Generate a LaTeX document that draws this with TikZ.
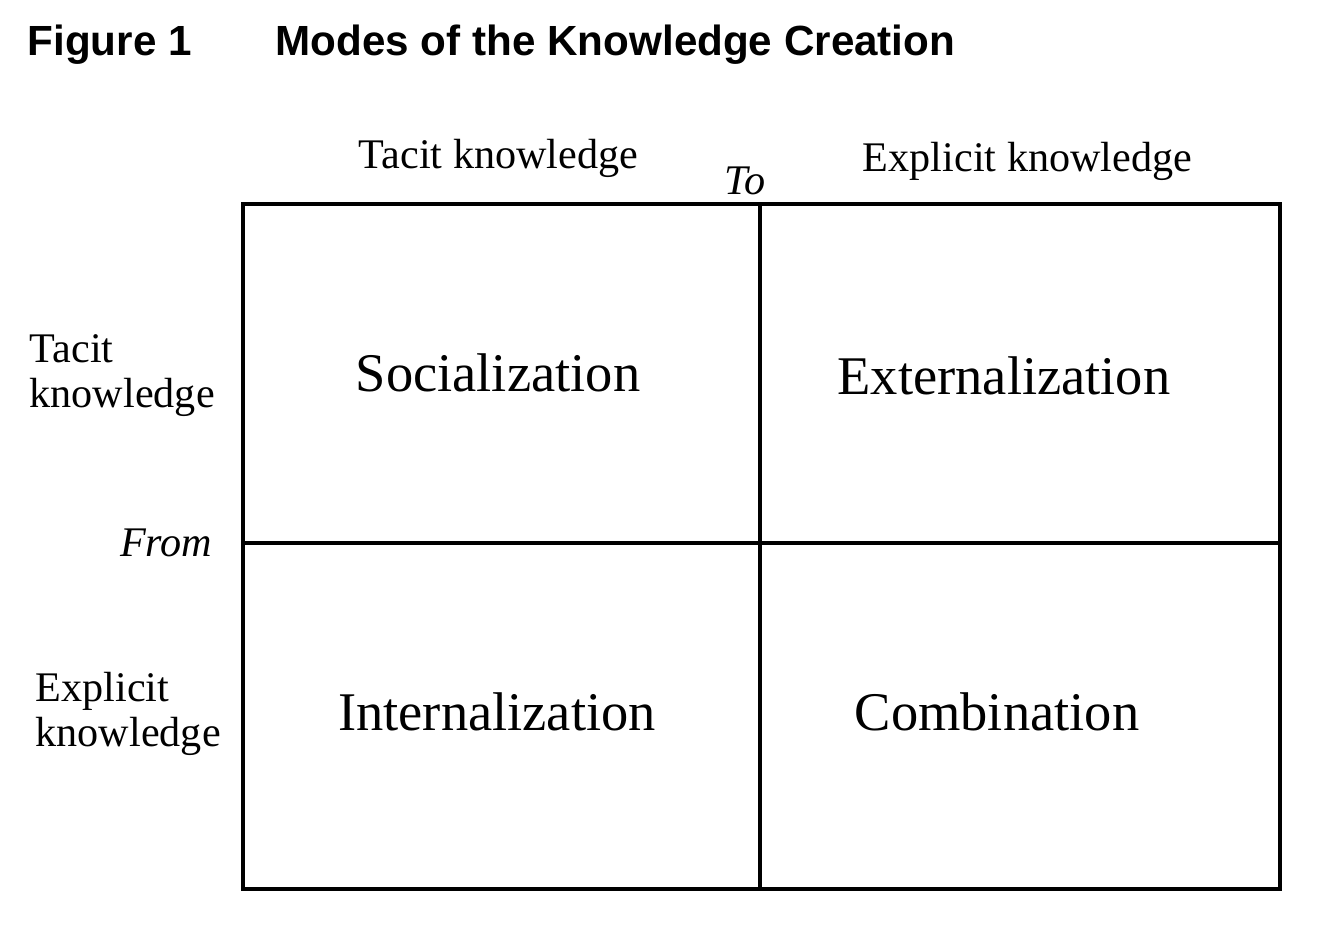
\documentclass[tikz,border=0pt]{standalone}
\usepackage{fontspec}
\setmainfont{Liberation Serif}
\newfontfamily\titlefont{Liberation Sans}
\usepackage{tikz}
\usetikzlibrary{positioning}

\begin{document}
\begin{tikzpicture}[
  cell/.style = {rectangle, draw=black, line width=0.9pt, inner sep=0pt, outer sep=0pt},
  mode/.style = {font=\fontsize{15.5}{17}\selectfont, anchor=base},
  axis/.style = {font=\fontsize{12}{12.8}\selectfont, inner sep=0pt},
  heading/.style = {font=\titlefont\bfseries\fontsize{12}{14}\selectfont, anchor=base west, inner sep=0pt}
]
\useasboundingbox (0, 0) rectangle (13.18, 9.33);
% title
\node [heading] (fig) at (0.27, 8.77) {Figure 1};
\node [heading] (title) at (2.75, 8.77) {Modes of the Knowledge Creation};
% the four cells
\node [cell, minimum width=5.17cm, minimum height=3.39cm] (TT) at (5.015, 5.595) {};
\node [cell, minimum width=5.20cm, minimum height=3.39cm] (TE) at (10.20, 5.595) {};
\node [cell, minimum width=5.17cm, minimum height=3.46cm] (ET) at (5.015, 2.17) {};
\node [cell, minimum width=5.20cm, minimum height=3.46cm] (EE) at (10.20, 2.17) {};
% modes
\node [mode] (soc) at (4.98, 5.41) {Socialization};
\node [mode] (ext) at (10.04, 5.38) {Externalization};
\node [mode] (int) at (4.97, 2.02) {Internalization};
\node [mode] (com) at (9.97, 2.02) {Combination};
% column heads
\node [axis, anchor=base] (toT) at (4.985, 7.64) {Tacit knowledge};
\node [axis, anchor=base] (toE) at (10.275, 7.61) {Explicit knowledge};
\node [axis, anchor=base, font=\fontsize{12}{12.8}\selectfont\itshape] (to) at (7.45, 7.38) {To};
% row heads
\node [axis, anchor=base west, align=left] (fromT) at (0.29, 5.25) {Tacit\\knowledge};
\node [axis, anchor=base east, font=\fontsize{12}{12.8}\selectfont\itshape] (from) at (2.13, 3.76) {From};
\node [axis, anchor=base west, align=left] (fromE) at (0.35, 1.86) {Explicit\\knowledge};
\end{tikzpicture}
\end{document}
